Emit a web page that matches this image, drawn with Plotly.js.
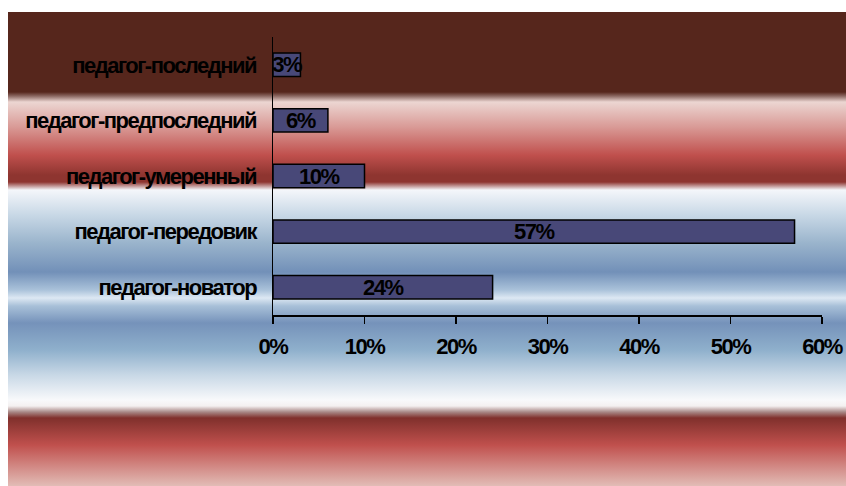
<!DOCTYPE html>
<html>
<head>
<meta charset="utf-8">
<script src="https://cdn.plot.ly/plotly-3.0.1.min.js"></script>
<style>
  html, body { margin: 0; padding: 0; background: #ffffff; }
  #wrap { position: relative; width: 846px; height: 486px; overflow: hidden; }
  #bg {
    position: absolute; left: 8px; top: 12px; width: 838px; height: 474px;
    background: linear-gradient(to bottom,
      #56261c 0px, #56261c 80px, #8a6660 84px, #ecd6d2 90px,
      #d99a96 115px, #c0504d 143px, #8e3530 163px, #8e3530 170px,
      #f4f6fa 178px, #c8d8e6 203px, #9ab4cc 231px, #7290b8 260px,
      #aac2da 278px, #dde8f3 286px, #a8c0d8 294px, #7592ba 311px,
      #8fb0cc 338px, #c8d8e6 363px, #f8f9fb 388px, #f4f0f0 394px,
      #a88886 400px, #80302c 406px, #c0504d 433px, #e2bcb6 474px);
  }
  #chart { position: absolute; left: 0; top: 0; width: 846px; height: 486px; }
  #chart svg text { letter-spacing: -1.5px; }
</style>
</head>
<body>
<div id="wrap">
  <div id="bg"></div>
  <div id="chart"></div>
</div>
<script>
// Data (bottom to top as drawn)
var categories = ['педагог-новатор', 'педагог-передовик', 'педагог-умеренный', 'педагог-предпоследний', 'педагог-последний'];
var shares = [0.24, 0.57, 0.10, 0.06, 0.03];
var xTickValues = [0, 0.1, 0.2, 0.3, 0.4, 0.5, 0.6];

var FONT = '"Liberation Sans", Arial, sans-serif';

var trace = {
  type: 'bar',
  orientation: 'h',
  y: categories,
  x: shares,
  width: 0.42,
  marker: { color: 'rgb(72,72,120)', line: { color: '#000000', width: 1.5 } },
  texttemplate: '<b>%{x:.0%}</b>',
  textposition: 'inside',
  insidetextanchor: 'middle',
  constraintext: 'none',
  textfont: { family: FONT, size: 22, color: '#000000' },
  cliponaxis: false,
  hoverinfo: 'none'
};

var layout = {
  width: 846,
  height: 486,
  margin: { l: 273, r: 24, t: 37, b: 171 },
  paper_bgcolor: 'rgba(0,0,0,0)',
  plot_bgcolor: 'rgba(0,0,0,0)',
  showlegend: false,
  font: { family: FONT, size: 22, color: '#000000', weight: 'bold' },
  xaxis: {
    range: [0, 0.6],
    tickvals: xTickValues,
    tickformat: '.0%',
    showgrid: false,
    zeroline: false,
    showline: true,
    linecolor: '#000000',
    linewidth: 1.5,
    ticks: 'outside',
    ticklen: 7,
    tickwidth: 1.5,
    tickcolor: '#000000',
    ticklabelstandoff: 4,
    tickfont: { family: FONT, size: 22, color: '#000000', weight: 'bold' },
    fixedrange: true
  },
  yaxis: {
    type: 'category',
    categoryorder: 'array',
    categoryarray: categories,
    showgrid: false,
    zeroline: false,
    showline: true,
    linecolor: '#000000',
    linewidth: 1.5,
    ticks: '',
    ticklabelstandoff: 11,
    tickfont: { family: FONT, size: 22, color: '#000000', weight: 'bold' },
    fixedrange: true
  }
};

Plotly.newPlot('chart', [trace], layout, { displayModeBar: false, staticPlot: true });
</script>
</body>
</html>
